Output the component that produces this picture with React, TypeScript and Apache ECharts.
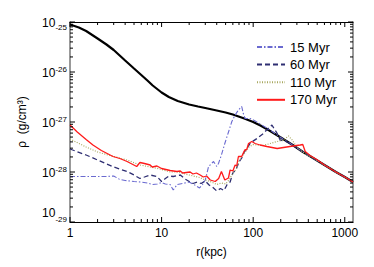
import React, { useEffect, useRef } from "react";
import * as echarts from "echarts";

// ---- data (radius in kpc, density as log10 of rho in g/cm^3) ----
const rInitial = [1, 1.25, 1.5, 2, 2.5, 3, 4, 5, 6, 7, 8, 10, 12, 15, 20, 25, 30, 40, 50, 60, 80, 100, 120, 150, 200, 270, 350, 450, 600, 800, 1000, 1230];
const logInitial = [-25.05, -25.11, -25.18, -25.33, -25.45, -25.56, -25.77, -25.93, -26.06, -26.17, -26.27, -26.41, -26.5, -26.58, -26.65, -26.69, -26.72, -26.77, -26.81, -26.85, -26.93, -27.0, -27.07, -27.17, -27.31, -27.46, -27.6, -27.72, -27.86, -28.0, -28.1, -28.2];

const r15 = [1, 1.5, 2, 2.5, 3, 3.5, 4, 5, 6, 7, 8, 9, 10, 11, 12.4, 13.4, 14.8, 17, 20, 23, 26, 28, 30, 32.6, 36.9, 40, 41.8, 45, 49, 54, 58.5, 63.5, 69, 75, 78, 81.5, 93, 105, 119, 150, 200, 270, 350, 450, 600, 800, 1000, 1230];
const log15 = [-28.09, -28.09, -28.09, -28.09, -28.08, -28.15, -28.17, -28.19, -28.2, -28.22, -28.25, -28.24, -28.21, -28.24, -28.25, -28.36, -28.25, -28.23, -28.2, -28.26, -28.32, -28.25, -28.16, -27.89, -27.79, -27.89, -27.83, -27.66, -27.43, -27.19, -26.99, -26.86, -26.76, -26.69, -26.83, -26.93, -26.93, -26.98, -27.04, -27.15, -27.31, -27.46, -27.6, -27.72, -27.86, -28.0, -28.1, -28.2];

const r60 = [1, 1.5, 2, 3, 4.2, 5, 5.8, 6.5, 7.5, 8.9, 10, 11, 12, 13.4, 16, 18, 22, 24.5, 27, 30, 33, 36, 40, 44, 48, 52, 56, 60, 65, 70, 75, 80, 86, 93, 110, 129, 145, 160, 183, 197, 230, 270, 350, 450, 600, 800, 1000, 1230];
const log60 = [-27.54, -27.66, -27.76, -27.9, -27.99, -28.06, -28.13, -28.1, -28.06, -28.09, -28.19, -28.13, -28.08, -28.09, -28.06, -28.14, -28.23, -28.2, -28.23, -28.18, -28.26, -28.3, -28.38, -28.33, -28.37, -28.25, -28.2, -28.02, -27.95, -27.8, -27.72, -27.6, -27.52, -27.42, -27.33, -27.23, -27.13, -27.06, -27.23, -27.36, -27.39, -27.46, -27.6, -27.72, -27.86, -28.0, -28.1, -28.2];

const r110 = [1, 1.5, 2, 3, 4.2, 5.8, 7.5, 9.6, 12.4, 15, 18, 20, 26, 30, 35, 40, 45, 50, 55, 60, 65, 70, 80, 90, 100, 110, 129, 153, 183, 214, 243, 264, 300, 341, 380, 450, 600, 800, 1000, 1230];
const log110 = [-27.34, -27.5, -27.6, -27.69, -27.76, -27.86, -27.9, -27.94, -28.0, -28.0, -28.04, -28.06, -28.11, -28.16, -28.2, -28.25, -28.22, -28.24, -28.15, -28.02, -27.95, -27.78, -27.62, -27.5, -27.45, -27.46, -27.47, -27.43, -27.39, -27.36, -27.28, -27.35, -27.5, -27.59, -27.65, -27.72, -27.86, -28.0, -28.1, -28.2];

const r170 = [1, 1.2, 1.5, 1.78, 2.2, 2.95, 3.5, 4.2, 5.35, 5.8, 6.5, 7.5, 7.9, 8.9, 10, 12.4, 14.7, 16, 17, 20.5, 22, 24, 26.4, 28.5, 31, 34, 38.5, 42, 45, 49, 53.7, 56, 60, 63.5, 66, 69, 75, 78, 81, 85, 89, 96.6, 105, 119, 141, 183, 232, 273, 326, 348, 370, 418, 495, 600, 800, 1000, 1230];
const log170 = [-27.06, -27.2, -27.35, -27.46, -27.57, -27.69, -27.73, -27.79, -27.89, -27.81, -27.83, -27.86, -27.9, -27.88, -27.93, -27.97, -27.99, -27.98, -28.02, -28.0, -28.04, -28.02, -28.06, -28.1, -28.08, -28.16, -28.19, -28.13, -27.99, -28.16, -28.12, -27.96, -27.98, -27.86, -27.88, -27.69, -27.69, -27.62, -27.56, -27.55, -27.43, -27.39, -27.43, -27.46, -27.49, -27.53, -27.5, -27.48, -27.46, -27.45, -27.59, -27.67, -27.75, -27.86, -28.0, -28.1, -28.2];

const legendNames = ["15 Myr", "60 Myr", "110 Myr", "170 Myr"];
const xDecades = [1, 10, 100, 1000];
const yExponents = [-29, -28, -27, -26, -25];

const X_MIN = 1;
const X_MAX = 1230;
const Y_MIN = -29;
const Y_MAX = -25;

const FONT = "Liberation Sans, Arial, Helvetica, sans-serif";

function zip(xs: number[], ys: number[]) {
  return xs.map((x, i) => [x, ys[i]]);
}

// tick positions along each axis (major / minor)
function buildXTicks() {
  const out: number[][] = [];
  xDecades.forEach((d) => {
    for (let k = 1; k <= 9; k++) {
      const v = d * k;
      if (v <= X_MAX) out.push([v, Y_MIN, k === 1 ? 1 : 0]);
    }
  });
  return out;
}
function buildYTicks() {
  const out: number[][] = [];
  yExponents.forEach((e) => {
    for (let k = 1; k <= 9; k++) {
      const v = e + Math.log10(k);
      if (v <= Y_MAX + 1e-9) out.push([X_MIN, v, k === 1 ? 1 : 0]);
    }
  });
  return out;
}

export default function App() {
  const ref = useRef<HTMLDivElement>(null);

  useEffect(() => {
    if (!ref.current) return;
    const chart = echarts.init(ref.current, null, { renderer: "svg" });

    const lineBase = { type: "line", showSymbol: false, symbol: "none", smooth: false, z: 3 };

    const option: any = {
      animation: false,
      backgroundColor: "#fff",
      textStyle: { fontFamily: FONT },
      grid: { left: 70, right: 21, top: 22, bottom: 45, show: false },
      legend: {
        data: legendNames,
        orient: "vertical",
        left: 251,
        top: 35,
        itemWidth: 28,
        itemHeight: 12,
        itemGap: 3.6,
        itemStyle: { color: "rgba(0,0,0,0)", borderWidth: 0, opacity: 0 },
        textStyle: { fontSize: 13, color: "#000", fontFamily: FONT, lineHeight: 14 },
        selectedMode: false,
      },
      xAxis: [
        {
          type: "log",
          logBase: 10,
          min: X_MIN,
          max: X_MAX,
          axisLine: { show: true, lineStyle: { color: "#000", width: 1 } },
          axisTick: { show: false },
          minorTick: { show: false },
          splitLine: { show: false },
          axisLabel: {
            margin: 5,
            fontSize: 12,
            color: "#000",
            fontFamily: FONT,
            formatter: (v: number) => {
              const l = Math.log10(v);
              return Math.abs(l - Math.round(l)) < 1e-6 ? String(Math.round(v)) : "";
            },
          },
          name: "r(kpc)",
          nameLocation: "middle",
          nameGap: 24,
          nameTextStyle: { fontSize: 12, color: "#000", fontFamily: FONT },
        },
        {
          type: "log",
          logBase: 10,
          position: "top",
          min: X_MIN,
          max: X_MAX,
          axisLine: { show: true, lineStyle: { color: "#000", width: 1 } },
          axisTick: { show: false },
          axisLabel: { show: false },
          splitLine: { show: false },
        },
      ],
      yAxis: [
        {
          type: "value",
          min: Y_MIN,
          max: Y_MAX,
          interval: 1,
          axisLine: { show: true, lineStyle: { color: "#777", width: 1.5 } },
          axisTick: { show: false },
          splitLine: { show: false },
          axisLabel: {
            margin: 3,
            color: "#000",
            fontFamily: FONT,
            formatter: (v: number) => {
              const e = Math.round(v);
              const k = e === Y_MAX ? "t" : e === Y_MIN ? "u" : "m";
              return `{b${k}|10}{s${k}|${e}}`;
            },
            rich: {
              bm: { fontSize: 12, lineHeight: 13, padding: [2, 0, 0, 0], verticalAlign: "bottom", fontFamily: FONT, color: "#000" },
              sm: { fontSize: 8, lineHeight: 9, verticalAlign: "top", fontFamily: FONT, color: "#000" },
              bt: { fontSize: 12, lineHeight: 13, padding: [10, 0, 0, 0], verticalAlign: "bottom", fontFamily: FONT, color: "#000" },
              st: { fontSize: 8, lineHeight: 9, padding: [8, 0, 0, 0], verticalAlign: "top", fontFamily: FONT, color: "#000" },
              bu: { fontSize: 12, lineHeight: 13, padding: [2, 0, 10, 0], verticalAlign: "bottom", fontFamily: FONT, color: "#000" },
              su: { fontSize: 8, lineHeight: 9, verticalAlign: "top", fontFamily: FONT, color: "#000" },
            },
          },
          name: "ρ  (g/cm³)",
          nameLocation: "middle",
          nameGap: 42,
          nameTextStyle: { fontSize: 12, color: "#000", fontFamily: FONT },
        },
        {
          type: "value",
          position: "right",
          min: Y_MIN,
          max: Y_MAX,
          interval: 1,
          axisLine: { show: true, lineStyle: { color: "#777", width: 1.5 } },
          axisTick: { show: false },
          axisLabel: { show: false },
          splitLine: { show: false },
        },
      ],
      series: [
        {
          ...lineBase,
          name: "initial",
          data: zip(rInitial, logInitial),
          lineStyle: { color: "#000", width: 2.2 },
          itemStyle: { color: "#000" },
        },
        {
          ...lineBase,
          name: "15 Myr",
          data: zip(r15, log15),
          lineStyle: { color: "#6a6ad0", width: 1.1, type: [5, 2, 1.5, 2] },
          itemStyle: { color: "#6a6ad0" },
        },
        {
          ...lineBase,
          name: "60 Myr",
          data: zip(r60, log60),
          lineStyle: { color: "#2e2e72", width: 1.3, type: [5, 3] },
          itemStyle: { color: "#2e2e72" },
        },
        {
          ...lineBase,
          name: "110 Myr",
          data: zip(r110, log110),
          lineStyle: { color: "#a8a860", width: 1.2, type: [1, 1.5] },
          itemStyle: { color: "#a8a860" },
        },
        {
          ...lineBase,
          name: "170 Myr",
          data: zip(r170, log170),
          lineStyle: { color: "#ff1a1a", width: 1.3 },
          itemStyle: { color: "#ff1a1a" },
        },
        {
          type: "custom",
          name: "xticks",
          silent: true,
          clip: false,
          z: 5,
          encode: { x: 0, y: 1 },
          data: buildXTicks(),
          renderItem: (_p: any, api: any) => {
            const r = api.value(0);
            const len = api.value(2) ? 5 : 3;
            const b = api.coord([r, Y_MIN]);
            const t = api.coord([r, Y_MAX]);
            const st = { stroke: "#000", lineWidth: 1 };
            return {
              type: "group",
              children: [
                { type: "line", shape: { x1: b[0], y1: b[1], x2: b[0], y2: b[1] - len }, style: st },
                { type: "line", shape: { x1: t[0], y1: t[1], x2: t[0], y2: t[1] + len }, style: st },
              ],
            };
          },
        },
        {
          type: "custom",
          name: "yticks",
          silent: true,
          clip: false,
          z: 5,
          encode: { x: 0, y: 1 },
          data: buildYTicks(),
          renderItem: (_p: any, api: any) => {
            const v = api.value(1);
            const len = api.value(2) ? 5 : 3;
            const l = api.coord([X_MIN, v]);
            const rr = api.coord([X_MAX, v]);
            const st = { stroke: "#000", lineWidth: 1 };
            return {
              type: "group",
              children: [
                { type: "line", shape: { x1: l[0], y1: l[1], x2: l[0] + len, y2: l[1] }, style: st },
                { type: "line", shape: { x1: rr[0], y1: rr[1], x2: rr[0] - len, y2: rr[1] }, style: st },
              ],
            };
          },
        },
      ],
    };

    chart.setOption(option);
    return () => chart.dispose();
  }, []);

  return <div ref={ref} style={{ width: 374, height: 267, position: "absolute", left: 0, top: 0 }} />;
}
